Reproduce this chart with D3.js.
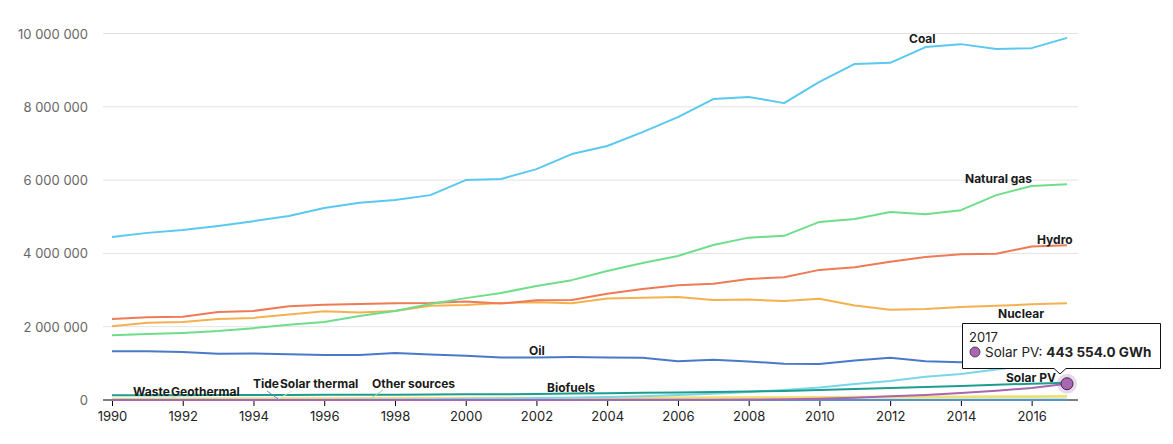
<!doctype html>
<html lang="en">
<head>
  <meta charset="utf-8">
  <title>Electricity generation by source</title>
  <script src="https://cdn.jsdelivr.net/npm/d3@7"></script>
  <style>
    body { margin: 0; background: #fff; }
    svg { font-family: Inter, "Noto Sans", sans-serif; }
  </style>
</head>
<body>
<svg width="1173" height="444"></svg>
<script>
  var years = d3.range(1990, 2018);
  var yTicks = [0, 2000000, 4000000, 6000000, 8000000, 10000000];
  var xTicks = d3.range(1990, 2017, 2);

  // GWh, 1990..2017
  var coal = [4450000, 4560000, 4640000, 4750000, 4880000, 5020000, 5240000, 5380000, 5460000, 5590000,
              6000000, 6030000, 6300000, 6710000, 6930000, 7310000, 7720000, 8210000, 8270000, 8100000,
              8680000, 9170000, 9200000, 9630000, 9710000, 9580000, 9600000, 9880000];
  var gas = [1770000, 1800000, 1830000, 1880000, 1960000, 2050000, 2130000, 2290000, 2430000, 2620000,
             2780000, 2920000, 3110000, 3270000, 3520000, 3740000, 3930000, 4230000, 4430000, 4480000,
             4860000, 4940000, 5130000, 5070000, 5180000, 5590000, 5840000, 5890000];
  var hydro = [2210000, 2260000, 2270000, 2400000, 2430000, 2560000, 2600000, 2620000, 2640000, 2650000,
               2690000, 2630000, 2720000, 2730000, 2900000, 3030000, 3130000, 3170000, 3300000, 3350000,
               3550000, 3620000, 3770000, 3900000, 3980000, 3990000, 4190000, 4220000];
  var nuclear = [2010000, 2110000, 2130000, 2210000, 2240000, 2330000, 2420000, 2390000, 2430000, 2570000,
                 2590000, 2650000, 2670000, 2640000, 2770000, 2790000, 2810000, 2730000, 2740000, 2700000,
                 2760000, 2580000, 2460000, 2480000, 2540000, 2570000, 2610000, 2640000];
  var oil = [1330000, 1330000, 1310000, 1260000, 1270000, 1250000, 1230000, 1230000, 1280000, 1240000,
             1210000, 1160000, 1160000, 1170000, 1160000, 1150000, 1060000, 1100000, 1050000, 990000,
             980000, 1080000, 1150000, 1060000, 1030000, 1010000, 950000, 900000];
  var wind = [3900, 4400, 4800, 5700, 7300, 8300, 9800, 12100, 16000, 21200,
              31400, 38400, 52300, 63200, 85100, 104400, 133200, 170700, 219300, 276100,
              341600, 437000, 521300, 635500, 712200, 833000, 959500, 1134500];
  var biofuels = [130000, 131000, 133000, 135000, 137000, 139000, 141000, 143000, 146000, 150000,
                  155000, 158000, 165000, 175000, 185000, 195000, 205000, 218000, 232000, 248000,
                  275000, 300000, 325000, 355000, 385000, 415000, 445000, 470000];
  var solarPV = [90, 100, 100, 200, 200, 300, 300, 400, 500, 700,
                 1100, 1600, 2100, 2800, 3900, 4600, 6000, 8200, 12600, 20600,
                 32900, 63800, 99300, 137100, 190300, 250800, 328400, 443554];
  var waste = [25000, 27000, 30000, 33000, 36000, 40000, 43000, 46000, 50000, 53000,
               56000, 58000, 60000, 63000, 66000, 68000, 70000, 72000, 75000, 78000,
               85000, 88000, 90000, 95000, 98000, 100000, 104000, 107000];
  var geothermal = [36000, 38000, 39000, 40000, 40000, 40000, 42000, 44000, 46000, 48000,
                    52000, 53000, 53000, 54000, 56000, 58000, 60000, 62000, 65000, 67000,
                    68000, 69000, 70000, 71000, 74000, 80000, 82000, 86000];
  var tide = [600, 600, 600, 600, 600, 600, 600, 600, 600, 600,
              600, 600, 600, 600, 600, 600, 600, 600, 500, 500,
              500, 700, 1100, 1000, 1000, 1000, 1000, 1000];
  var solarThermal = [700, 800, 700, 900, 800, 800, 900, 800, 900, 900,
                      500, 600, 600, 600, 600, 600, 500, 700, 900, 900,
                      1600, 2900, 4800, 5600, 8700, 9500, 10800, 11600];
  var otherSources = [3000, 3000, 3000, 3200, 3400, 3500, 3600, 3800, 4000, 4200,
                      4500, 4700, 5000, 5200, 5500, 6000, 6500, 7000, 7500, 8000,
                      8500, 9000, 9500, 10000, 10500, 11000, 11500, 12000];

  var series = [
    { name: "Other sources", values: otherSources, color: "#8fdfa0" },
    { name: "Solar thermal", values: solarThermal, color: "#cdeed8" },
    { name: "Tide", values: tide, color: "#5b8fd2" },
    { name: "Geothermal", values: geothermal, color: "#d8e88a" },
    { name: "Waste", values: waste, color: "#f4de6c" },
    { name: "Oil", values: oil, color: "#4a79c8" },
    { name: "Nuclear", values: nuclear, color: "#f5b04f" },
    { name: "Hydro", values: hydro, color: "#ee7a56" },
    { name: "Natural gas", values: gas, color: "#6fde8b" },
    { name: "Coal", values: coal, color: "#5ac8ef" },
    { name: "Wind", values: wind, color: "#7ad6ea" },
    { name: "Solar PV", values: solarPV, color: "#a866b3" },
    { name: "Biofuels", values: biofuels, color: "#1d9d8e" }
  ];

  // label placement (left x, baseline y) and optional leader target year
  var labelPos = {
    "Coal": [909, 43], "Natural gas": [965, 183], "Hydro": [1037, 244],
    "Nuclear": [998, 318], "Oil": [529, 355], "Biofuels": [547, 392],
    "Solar PV": [1006, 382], "Waste": [133, 396], "Geothermal": [171, 396],
    "Tide": [253, 388], "Solar thermal": [280, 388], "Other sources": [372, 388]
  };
  var leaders = {
    "Tide": [267, 391, 1994.7], "Solar thermal": [292, 391, 1994.7],
    "Other sources": [383, 390, 1997.3], "Geothermal": [172, 397, 1991.8]
  };

  var svg = d3.select("svg");
  var x = d3.scaleLinear().domain([1990, 2017]).range([112, 1067]);
  var y = d3.scaleLinear().domain([0, 10000000]).range([400, 33.5]);
  var fmt = d3.formatLocale({ decimal: ".", thousands: " ", grouping: [3], currency: ["", ""] });
  var f0 = fmt.format(",d");
  var f1 = fmt.format(",.1f");

  // grid + y labels
  var yAxis = svg.append("g");
  yAxis.selectAll("line").data(yTicks.slice(1)).enter().append("line")
    .attr("x1", 103).attr("x2", 1078)
    .attr("y1", function(d) { return y(d); }).attr("y2", function(d) { return y(d); })
    .attr("stroke", "#e3e3e3");
  yAxis.selectAll("text").data(yTicks).enter().append("text")
    .attr("x", 88).attr("y", function(d) { return y(d) + 5; })
    .attr("text-anchor", "end").attr("font-size", 13).attr("fill", "#666")
    .text(function(d) { return f0(d); });

  // x axis
  var gx = svg.append("g").attr("transform", "translate(0,400)")
    .call(d3.axisBottom(x).tickValues(xTicks).tickFormat(d3.format("d")).tickSize(6).tickSizeOuter(0));
  gx.select(".domain").remove();
  gx.append("line").attr("x1", 103).attr("x2", 1078).attr("stroke", "#000");
  gx.selectAll(".tick line").attr("stroke", "#000");
  gx.selectAll(".tick text").attr("font-size", 13).attr("fill", "#222")
    .attr("font-family", "Inter, 'Noto Sans', sans-serif").attr("dy", "0.95em");

  var line = d3.line()
    .x(function(d, i) { return x(years[i]); })
    .y(function(d) { return y(d); });

  svg.append("g").selectAll("path").data(series).enter().append("path")
    .attr("d", function(s) { return line(s.values); })
    .attr("fill", "none").attr("stroke", function(s) { return s.color; })
    .attr("stroke-width", 2).attr("stroke-linejoin", "round");

  // leaders
  Object.keys(leaders).forEach(function(k) {
    var s = series.find(function(d) { return d.name === k; });
    var L = leaders[k];
    svg.append("line").attr("x1", L[0]).attr("y1", L[1])
      .attr("x2", x(L[2])).attr("y2", y(s.values[Math.round(L[2] - 1990)]) - 1)
      .attr("stroke", s.color).attr("stroke-width", 1);
  });

  // labels
  svg.append("g").selectAll("text").data(Object.keys(labelPos)).enter().append("text")
    .attr("x", function(k) { return labelPos[k][0]; })
    .attr("y", function(k) { return labelPos[k][1]; })
    .attr("font-size", 12).attr("font-weight", 700).attr("fill", "#1a1a1a")
    .text(function(k) { return k; });

  // hovered point
  var pv = solarPV[solarPV.length - 1];
  var px = x(2017), py = y(pv);
  svg.append("circle").attr("cx", px).attr("cy", py).attr("r", 10)
    .attr("fill", "#a866b3").attr("opacity", 0.25);
  svg.append("circle").attr("cx", px).attr("cy", py).attr("r", 6)
    .attr("fill", "#a866b3").attr("stroke", "#3a2a40").attr("stroke-width", 1);

  // tooltip
  var tt = svg.append("g");
  tt.append("path")
    .attr("d", "M962.5,323.5H1160.5V368.5H1066L1060,374L1054,368.5H962.5Z")
    .attr("fill", "#fff").attr("stroke", "#111").attr("stroke-width", 1);
  tt.append("text").attr("x", 969).attr("y", 342).attr("font-size", 13).attr("fill", "#222").text("2017");
  tt.append("circle").attr("cx", 975).attr("cy", 352).attr("r", 5)
    .attr("fill", "#a866b3").attr("stroke", "#3a2a40").attr("stroke-width", 0.8);
  var t2 = tt.append("text").attr("x", 985).attr("y", 357).attr("font-size", 13.5).attr("fill", "#222");
  t2.append("tspan").text("Solar PV: ");
  t2.append("tspan").attr("font-weight", 700).text(f1(pv) + " GWh");
</script>
</body>
</html>
